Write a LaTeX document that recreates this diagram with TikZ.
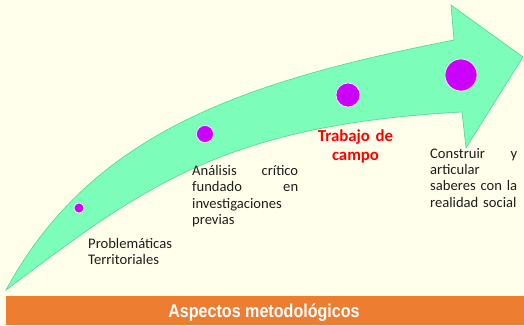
\documentclass[tikz,border=0pt]{standalone}
\usepackage{fontspec}
\setmainfont{Carlito}
\newfontfamily\barfont[FakeStretch=0.87]{Liberation Sans}
\definecolor{bgcream}{RGB}{255,255,236}
\definecolor{mint}{RGB}{124,253,185}
\definecolor{mintedge}{RGB}{80,215,145}
\definecolor{dotpurple}{RGB}{204,0,255}
\definecolor{barorange}{RGB}{237,125,49}
\definecolor{txtdark}{RGB}{30,30,30}
\tikzset{
  dot/.style={circle, fill=dotpurple, draw=white, line width=0.6pt, inner sep=0pt},
  label text/.style={inner sep=0pt, font=\fontsize{14.6}{16.3}\selectfont, text=txtdark, align=left},
  red label/.style={inner sep=0pt, font=\fontsize{16.8}{18.5}\selectfont\bfseries, text=red, align=center},
}
\begin{document}
\begin{tikzpicture}[x=1pt,y=-1pt]
\useasboundingbox (0,0) rectangle (524,325);
\fill[bgcream] (0,0) rectangle (524,325);
% arrow
\draw[fill=mint, draw=mintedge, line width=0.6pt, line join=miter]
  (6,290) .. controls (90,135) and (239,82) .. (454,40)
  -- (451,5) -- (523,57) -- (466,148) -- (462,112)
  .. controls (220,125) and (140,190) .. (6,290) -- cycle;
% dots
\node[dot, minimum size=10pt] (d1) at (79,208) {};
\node[dot, minimum size=17pt] (d2) at (205,134) {};
\node[dot, minimum size=24pt] (d3) at (348,95) {};
\node[dot, minimum size=32pt] (d4) at (461,75) {};
% labels
\node[label text, anchor=base west, text width=100pt] (t1) at (88,248) {Problemáticas\\Territoriales};
\node[label text, anchor=base west, text width=106pt] (t2) at (192,175.5)
  {Análisis\hfill crítico\\fundado\hfill en\\investigaciones\\previas};
\node[red label, anchor=base, text width=90pt] (t3) at (355.5,141.5) {Trabajo de\\campo};
\node[label text, anchor=base west, text width=87pt] (t4) at (430,158.3)
  {Construir\hfill y\\articular\\\mbox{saberes con la}\\\mbox{realidad social}};
% bar
\fill[barorange] (6,296) rectangle (524,325);
\node[inner sep=0pt, anchor=base, text=white, font=\barfont\fontsize{18.5}{20}\selectfont\bfseries] (bar) at (264,317) {Aspectos metodológicos};
\end{tikzpicture}
\end{document}
